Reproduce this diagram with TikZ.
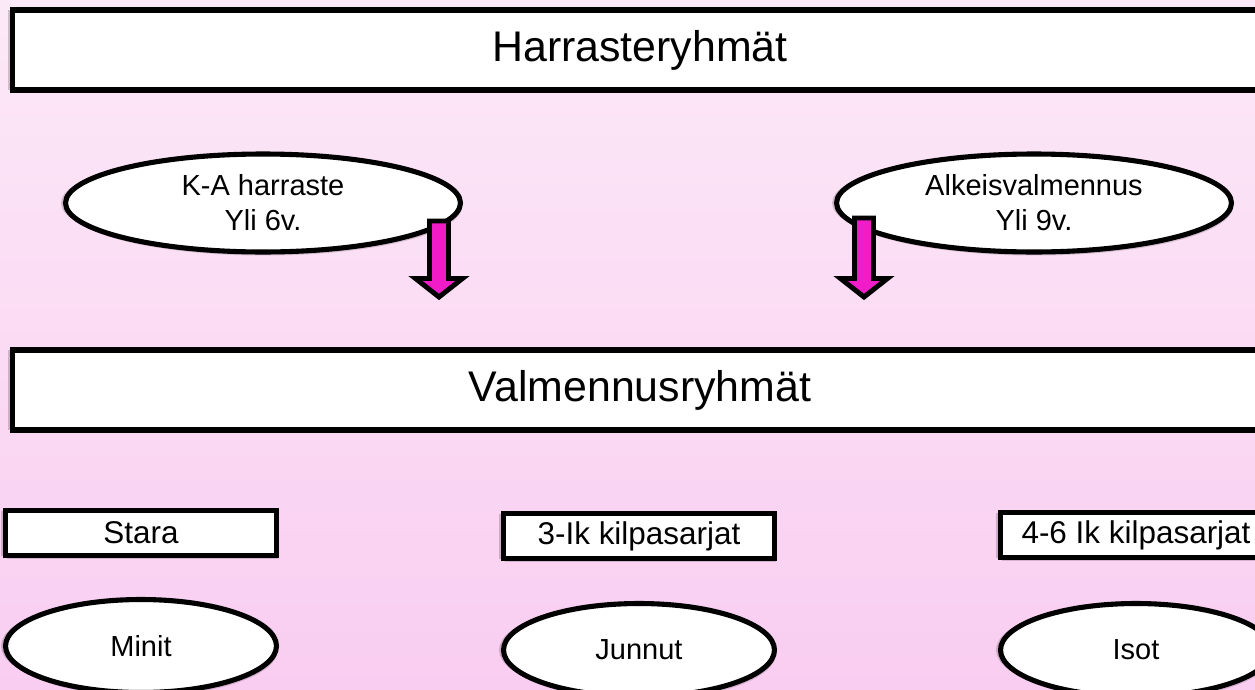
\documentclass[tikz,border=0pt]{standalone}
\usepackage{fontspec}
\setmainfont{Liberation Sans}
\usetikzlibrary{shapes.geometric,shadows}

\definecolor{bgTop}{RGB}{252,233,247}
\definecolor{bgBottom}{RGB}{249,205,241}
\definecolor{arrowPink}{RGB}{240,28,200}

\tikzset{
	softShadow/.style={general shadow={fill=black, opacity=.18, shadow xshift=-0.09cm, shadow yshift=0cm},
		general shadow={fill=black, opacity=.15, shadow xshift=0.03cm, shadow yshift=-0.07cm}},
	groupBox/.style={rectangle, draw=black, line width=2.9pt, fill=white, softShadow,
		minimum width=25.12cm, minimum height=1.6cm, inner sep=0pt, font=\fontsize{24.4}{29}\selectfont},
	ageOval/.style={ellipse, draw=black, line width=2.9pt, fill=white, softShadow,
		minimum width=7.9cm, minimum height=1.96cm, inner sep=0pt, align=center, font=\fontsize{16.5}{19.8}\selectfont},
	levelBox/.style={rectangle, draw=black, line width=2.9pt, fill=white, softShadow,
		minimum width=5.42cm, minimum height=0.9cm, inner sep=0pt, font=\fontsize{17.9}{21}\selectfont},
	teamOval/.style={ellipse, draw=black, line width=2.9pt, fill=white, softShadow,
		minimum width=5.42cm, minimum height=1.86cm, inner sep=0pt, font=\fontsize{16.5}{19.8}\selectfont},
	pinkArrow/.style={draw=black, line width=2.8pt, fill=arrowPink, line join=miter}
}

\begin{document}
\begin{tikzpicture}[x=0.02cm, y=-0.02cm]
		% Size of the slide and its background
		\useasboundingbox (0,0) rectangle (1255,690);
		\clip (0,0) rectangle (1255,690);
		\shade[top color=bgTop, bottom color=bgBottom] (0,0) rectangle (1255,690);
		
		% Hobby groups
		\node[groupBox] (harrasteBox) at (640,50) {Harrasteryhmät};
		
		\begin{scope}
			% The two ovals below the first bar
			\node[ageOval] (kaHarraste) at (263,203) {K-A harraste\\Yli 6v.};
			\node[ageOval] (alkeis) at (1034,203) {Alkeisvalmennus\\Yli 9v.};
		\end{scope}
		
		\begin{scope}
			% Arrows pointing down to the training groups
			\coordinate (firstArrow) at (439,221);
			\coordinate (secondArrow) at (864,218);
			\draw[pinkArrow] (firstArrow) ++(-9.5,0) -- ++(0,57.5) -- ++(-14,0) -- (439,297) -- ++(23.5,-18.5) -- ++(-14,0) -- ++(0,-57.5) -- cycle;
			\draw[pinkArrow] (secondArrow) ++(-9.5,0) -- ++(0,60.5) -- ++(-14,0) -- (864,297) -- ++(23.5,-18.5) -- ++(-14,0) -- ++(0,-60.5) -- cycle;
		\end{scope}
		
		% Training groups
		\node[groupBox] (valmennusBox) at (640,390) {Valmennusryhmät};
		
		\begin{scope}
			% Levels
			\node[levelBox] (staraBox) at (141,533) {Stara};
			\node[levelBox] (kolmeBox) at (639,536) {3-Ik kilpasarjat};
			\node[levelBox] (neljaBox) at (1136,535) {4-6 Ik kilpasarjat};
		\end{scope}
		
		\begin{scope}
			% Teams
			\node[teamOval] (minit) at (141,646) {Minit};
			\node[teamOval] (junnut) at (639,650) {Junnut};
			\node[teamOval] (isot) at (1136,650) {Isot};
		\end{scope}
	\end{tikzpicture}
\end{document}
